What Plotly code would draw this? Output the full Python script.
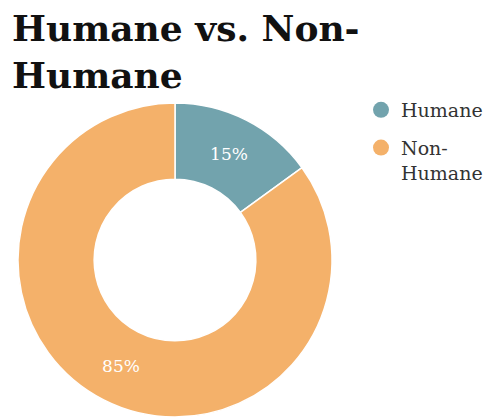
import plotly.graph_objects as go

# Share of humane vs. non-humane
categories = ["Humane", "Non-Humane"]
legend_labels = ["Humane", "Non-<br>Humane"]
shares = [15, 85]
colors = ["#72A3AD", "#F4B16A"]

W, H = 488, 420
SERIF = "DejaVu Serif"

fig = go.Figure()

fig.add_trace(go.Pie(
    labels=categories,
    values=shares,
    sort=False,
    direction="clockwise",
    rotation=0,
    hole=0.515,
    marker=dict(colors=colors, line=dict(color="white", width=1.5)),
    textinfo="percent",
    texttemplate="%{percent:.0%}",
    textposition="inside",
    insidetextorientation="horizontal",
    textfont=dict(family=SERIF, size=17, color="white"),
    showlegend=False,
    hoverinfo="label+percent",
    domain=dict(x=[18 / W, 332 / W], y=[3 / H, 317 / H]),
))

# Legend entries with round swatches
for i, (lab, col) in enumerate(zip(legend_labels, colors)):
    fig.add_trace(go.Scatter(
        x=[None], y=[None], mode="markers", name=lab,
        legendgroup=f"g{i}",
        marker=dict(symbol="circle", size=22, color=col),
        showlegend=True, hoverinfo="skip",
    ))

fig.update_layout(
    width=W, height=H,
    margin=dict(l=0, r=0, t=0, b=0),
    paper_bgcolor="white",
    plot_bgcolor="white",
    title=dict(
        text="<b>Humane vs. Non-<br>Humane</b>",
        font=dict(family=SERIF, size=36, color="#111111"),
        x=12 / W, xanchor="left",
        xref="paper",
        y=1 - 41 / H, yanchor="top", yref="container",
    ),
    legend=dict(
        x=361 / W, xanchor="left",
        y=1 - 91 / H, yanchor="top",
        font=dict(family=SERIF, size=19, color="#333333"),
        valign="top",
        tracegroupgap=10,
        traceorder="grouped",
        bgcolor="rgba(0,0,0,0)",
    ),
    xaxis=dict(visible=False),
    yaxis=dict(visible=False),
)

fig.write_html("out.html")
